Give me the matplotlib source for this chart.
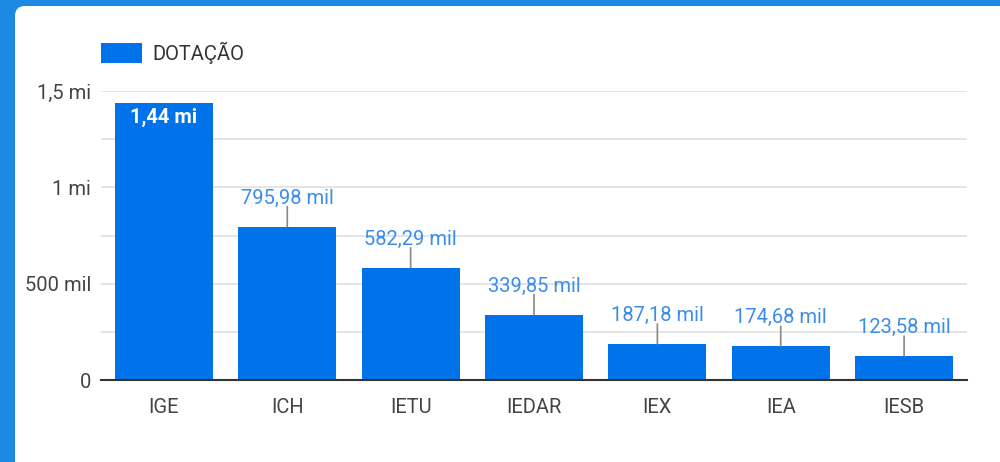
import matplotlib.pyplot as plt
from matplotlib.patches import FancyBboxPatch, Rectangle
from matplotlib.transforms import IdentityTransform

# Dados do gráfico
categorias = ["IGE", "ICH", "IETU", "IEDAR", "IEX", "IEA", "IESB"]
dotacao = [1440000, 795980, 582290, 339850, 187180, 174680, 123580]
rotulos = ["1,44 mi", "795,98 mil", "582,29 mil", "339,85 mil", "187,18 mil", "174,68 mil", "123,58 mil"]
serie = "DOTAÇÃO"

yticks = [0, 500000, 1000000, 1500000]
ytick_labels = ["0", "500 mil", "1 mi", "1,5 mi"]
yminor = [250000, 750000, 1250000]

azul_barra = "#0073ea"
azul_rotulo = "#3c8deb"
azul_moldura = "#1e88e5"
cinza_texto = "#444444"

plt.rcParams['font.family'] = ['Roboto', 'DejaVu Sans']

fig = plt.figure(figsize=(10, 4.62), dpi=100)
fig.patch.set_facecolor(azul_moldura)

# Cartão branco com canto arredondado
cartao = FancyBboxPatch((15, -30), 1020, 462 - 6 + 30,
                        boxstyle="round,pad=0,rounding_size=10",
                        transform=IdentityTransform(), facecolor="white",
                        edgecolor="none", zorder=-10)
fig.patches.append(cartao)

ax = fig.add_axes([0.101, 1 - 380 / 462, 0.866, (380 - 91) / 462])
ax.set_facecolor("none")
ax.set_zorder(1)

x = list(range(len(categorias)))
ax.bar(x, dotacao, width=0.795, color=azul_barra, zorder=3)

ax.set_xlim(-0.51, len(categorias) - 1 + 0.51)
ax.set_ylim(0, 1500000)

ax.set_yticks(yticks)
ax.set_yticklabels(ytick_labels)
ax.set_yticks(yminor, minor=True)
ax.set_xticks(x)
ax.set_xticklabels(categorias)

ax.grid(True, axis='y', which='both', color="#e0e0e0", linewidth=1.2, zorder=0)
ax.tick_params(axis='both', which='both', length=0, labelsize=14.5, labelcolor=cinza_texto)
ax.tick_params(axis='y', pad=7)
ax.tick_params(axis='x', pad=13)

for lado in ["top", "right", "left"]:
    ax.spines[lado].set_visible(False)
ax.spines["bottom"].set_color("#333333")
ax.spines["bottom"].set_linewidth(1.5)
ax.spines["bottom"].set_zorder(4)

# Rótulos dos valores
for i, (v, txt) in enumerate(zip(dotacao, rotulos)):
    if i == 0:
        ax.annotate(txt, (i, v), xytext=(0, -5), textcoords='offset pixels',
                    ha='center', va='top', color='white', fontsize=14.5,
                    fontweight='bold', zorder=5)
    else:
        ax.annotate("", (i, v), xytext=(0, 20), textcoords='offset pixels',
                    arrowprops=dict(arrowstyle='-', color='#888888', lw=1.2,
                                    shrinkA=0, shrinkB=0), zorder=5)
        ax.annotate(txt, (i, v), xytext=(0, 23), textcoords='offset pixels',
                    ha='center', va='baseline', color=azul_rotulo, fontsize=14.5,
                    zorder=5)

# Legenda
fig.patches.append(Rectangle((101, 462 - 63), 41, 20, transform=IdentityTransform(),
                             facecolor=azul_barra, edgecolor='none', zorder=2))
fig.text(152 / 1000, 1 - 53 / 462, serie, ha='left', va='center',
         fontsize=14.5, color="#333333")

fig.savefig("out.png", dpi=100, facecolor=fig.get_facecolor())
